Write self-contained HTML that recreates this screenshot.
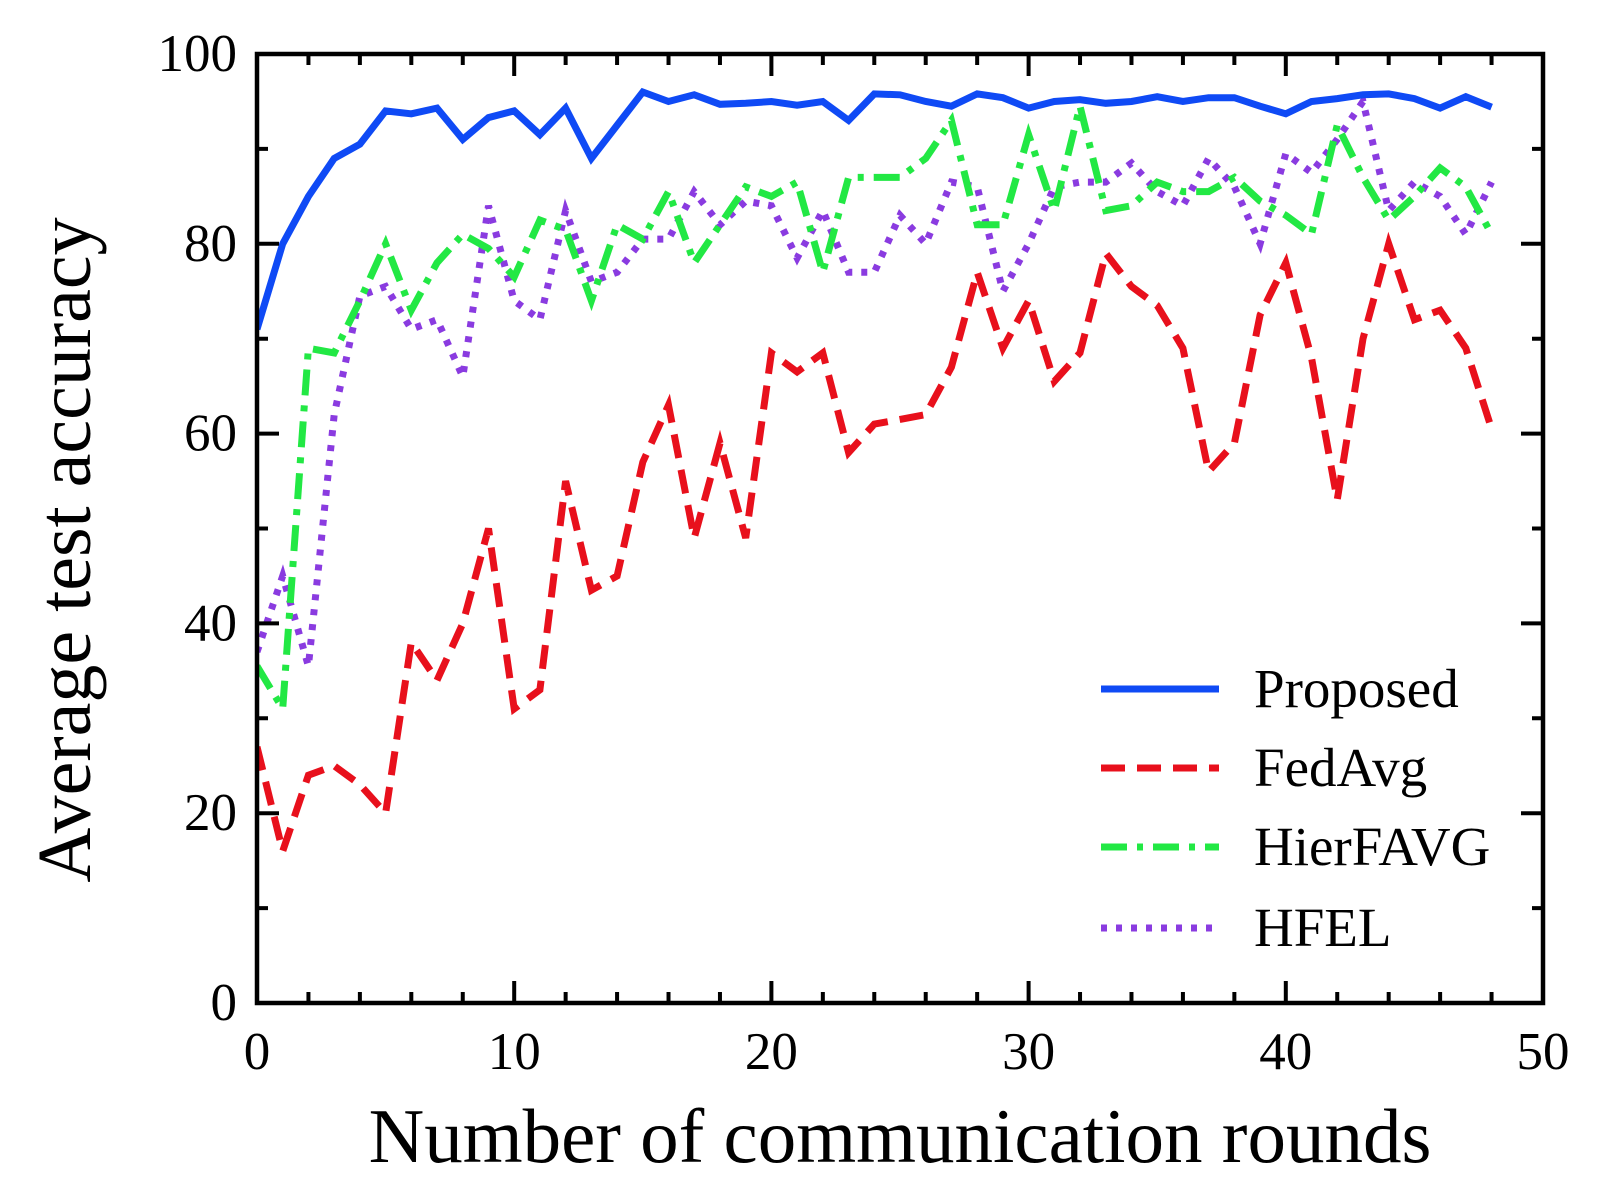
<!DOCTYPE html>
<html><head><meta charset="utf-8"><style>
html,body{margin:0;padding:0;background:#fff;}
svg{display:block;}
text{font-family:"Liberation Serif",serif;fill:#000;}
</style></head><body>
<svg id="s" width="1609" height="1195" xmlns="http://www.w3.org/2000/svg"></svg>
<script>
const L=257,R=1543,T=54,B=1003;
const X=r=>L+(R-L)*r/50, Y=v=>B-(B-T)*v/100;
const P=[71,80,85,89,90.5,94,93.7,94.3,91,93.3,94,91.5,94.3,89,92.5,96,95,95.7,94.7,94.8,95,94.6,95,93,95.8,95.7,95,94.5,95.8,95.4,94.3,95,95.2,94.8,95,95.5,95,95.4,95.4,94.5,93.7,95,95.3,95.7,95.8,95.3,94.3,95.5,94.4];
const F=[27,16,24,25,23,20,38,34,40,50,31,33,55,43.5,45,57,63,49,59,49,68.5,66.5,68.5,58,61,61.5,62,67,77,69,74,65.5,68.5,79,75.5,73.5,69,56,59,72.5,78,68,53,70,80,72,73,69,60.5];
const H=[35.5,31,69,68.5,74,80,73,78,81,79.5,76.5,82.5,81.5,74,82,80.5,85.5,78,82,86,85,86.5,77,87,87,87,89,93,82,82,91.5,83.5,94.5,83.5,84,86.5,85.5,85.5,87,84.5,83,81,92.5,87,82.5,85,88,86,81];
const E=[37,45,35.5,62,74.5,75.5,71,72,66,84,74,72,83.5,76,77,80.5,80.5,85.5,82,84.5,84,78.5,83.5,77,77,83,80,86.5,86,75,80,86,86.5,86.5,88.5,85.5,84,89,86,80,89.5,87.5,91,95,83.5,86.5,85,81,86.5];
let s='<defs><clipPath id="c"><rect x="'+L+'" y="'+T+'" width="'+(R-L)+'" height="'+(B-T)+'"/></clipPath></defs>';
const line=(d,c,da)=>'<polyline clip-path="url(#c)" fill="none" stroke="'+c+'" stroke-width="7" stroke-linejoin="miter" '+(da?'stroke-dasharray="'+da+'"':'')+' points="'+d.map((v,i)=>X(i).toFixed(1)+','+Y(v).toFixed(1)).join(' ')+'"/>';
s+=line(E,'#8a3be0','6,9');
s+=line(H,'#22e844','26,10,6,10');
s+=line(F,'#e8101c','24,12');
s+=line(P,'#0f4af5','');
let t='';
for(let v=0;v<=100;v+=10){const y=Y(v),l=v%20==0?22:11;t+=`M${L},${y}h${l}M${R},${y}h${-l}`;}
for(let r=0;r<=50;r+=2){const x=X(r),l=r%10==0?22:11;t+=`M${x},${B}v${-l}M${x},${T}v${l}`;}
s+='<path d="'+t+'" stroke="#000" stroke-width="4" fill="none"/>';
s+='<rect x="'+L+'" y="'+T+'" width="'+(R-L)+'" height="'+(B-T)+'" fill="none" stroke="#000" stroke-width="4.5"/>';
for(let v=0;v<=100;v+=20)s+=`<text x="${L-20}" y="${Y(v)+17}" font-size="53" text-anchor="end">${v}</text>`;
for(let r=0;r<=50;r+=10)s+=`<text x="${X(r)}" y="${B+66}" font-size="53" text-anchor="middle">${r}</text>`;
s+=`<text x="${(L+R)/2}" y="1162" font-size="77" text-anchor="middle">Number of communication rounds</text>`;
s+=`<text transform="translate(90,550) rotate(-90)" font-size="76" text-anchor="middle">Average test accuracy</text>`;
const lg=[['Proposed','#0f4af5',''],['FedAvg','#e8101c','24,12'],['HierFAVG','#22e844','26,10,6,10'],['HFEL','#8a3be0','6,9']];
lg.forEach((g,i)=>{const y=[689,768,847,928][i];
s+=`<line x1="1101" y1="${y}" x2="1219" y2="${y}" stroke="${g[1]}" stroke-width="7" ${g[2]?'stroke-dasharray="'+g[2]+'"':''}/>`;
s+=`<text x="1254" y="${y+18}" font-size="55">${g[0]}</text>`;});
document.getElementById('s').innerHTML=s;
</script>
</body></html>
